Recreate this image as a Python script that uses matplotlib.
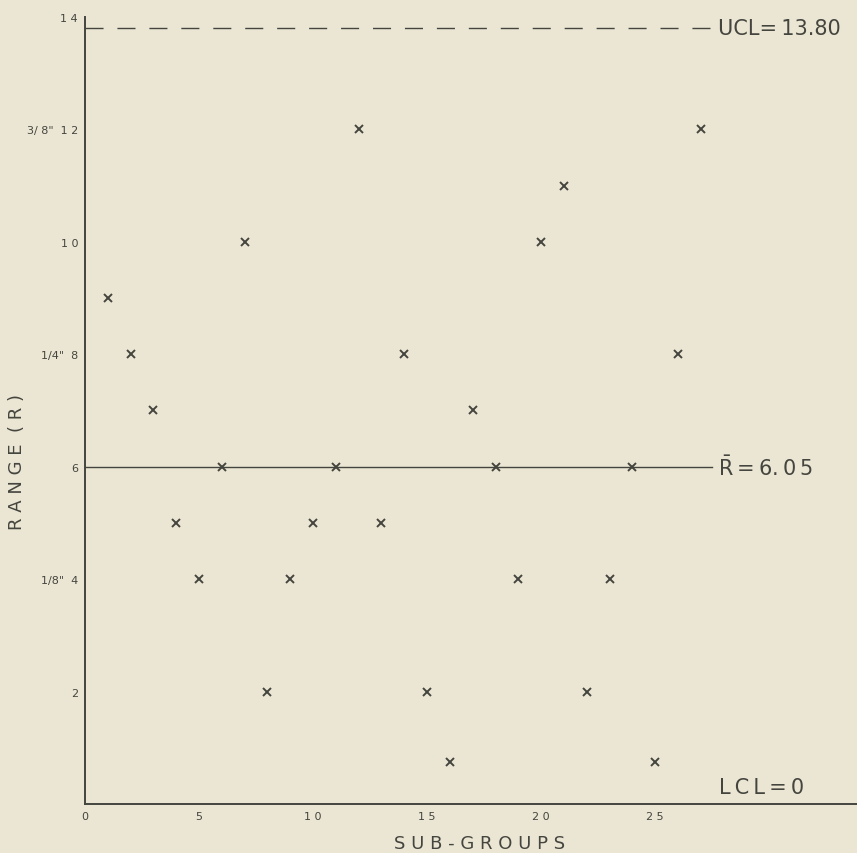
import matplotlib
matplotlib.use('Agg')
import matplotlib.pyplot as plt

# range chart data (units of 1/32 inch)
subgroups = list(range(1, 28))
ranges = [9, 8, 7, 5, 4, 6, 10, 2, 4, 5, 6, 12, 5, 8, 2, 0.75, 7,
          6, 4, 10, 11, 2, 4, 6, 0.75, 8, 12]
ucl = 13.80
r_bar = 6.05
lcl = 0
y_ticks = [2, 4, 6, 8, 10, 12, 14]
y_labels = ['2', '1/8"  4', '6', '1/4"  8', '1 0', '3/ 8"  1 2', '1 4']
x_ticks = [0, 5, 10, 15, 20, 25]
x_labels = ['0', '5', '1 0', '1 5', '2 0', '2 5']

bg = '#ebe6d3'
ink = '#45453f'
ts = '\u2009'  # thin space, the lettering on the original is spread out

fig = plt.figure(figsize=(8.57, 8.54), dpi=100, facecolor=bg)
ax = fig.add_axes([0.0992, 0.0574, 0.9008, 0.9216], facecolor=bg)

ax.plot(subgroups, ranges, 'x', color=ink, markersize=5.8, markeredgewidth=1.4)

# control lines
ax.plot([0, 27.6], [ucl, ucl], color=ink, lw=1, dashes=(13, 10))
ax.plot([0, 27.5], [6, 6], color=ink, lw=1)
ax.text(27.75, ucl, 'UCL=' + ts + '13.80', fontsize=15, color=ink, va='center')
ax.text(27.75, 6, r'$\bar{\mathrm{R}}$' + ts + '=' + ts + '6.' + ts + '0' + ts + '5',
        fontsize=15, color=ink, va='center')
ax.text(27.8, 0.12, ts.join('LCL=0'), fontsize=15, color=ink, va='bottom')

ax.set_xlim(0, 33.85)
ax.set_ylim(0, 14)
ax.set_xticks(x_ticks)
ax.set_xticklabels(x_labels)
ax.set_yticks(y_ticks)
ax.set_yticklabels(y_labels)
ax.tick_params(length=0, labelsize=8, colors=ink, pad=5)

for s in ['top', 'right']:
    ax.spines[s].set_visible(False)
for s in ['left', 'bottom']:
    ax.spines[s].set_color(ink)
    ax.spines[s].set_linewidth(1.4)

fig.text(0.559, 0.006, ' '.join('SUB-GROUPS'), fontsize=13, color=ink,
         ha='center', va='baseline')
fig.text(0.02, 0.459, 'R A N G E  ( R )', fontsize=13, color=ink, rotation=90,
         ha='center', va='center')

fig.savefig('out.png', dpi=100, facecolor=bg)
